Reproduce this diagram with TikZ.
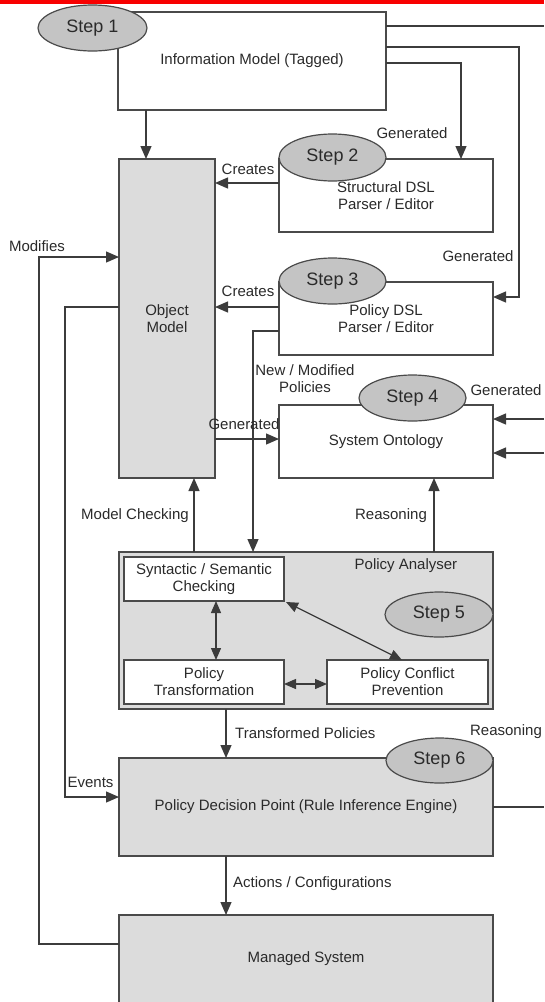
\documentclass[tikz,border=0pt]{standalone}
\usepackage{fontspec}
\setmainfont{Liberation Sans}
\usetikzlibrary{arrows.meta,shapes.geometric}
\definecolor{linec}{HTML}{3C3C3C}
\definecolor{boxc}{HTML}{4A4A4A}
\definecolor{txtc}{HTML}{2A2A2A}
\definecolor{grayf}{HTML}{DCDCDC}
\definecolor{stepf}{HTML}{C4C4C4}
\definecolor{barc}{HTML}{F80000}
\begin{document}
\begin{tikzpicture}[x=1pt,y=-1pt,
  box/.style={draw=boxc, line width=1.4pt, fill=white, inner sep=0pt, outer sep=0pt,
    align=center, text=txtc, font=\fontsize{15}{17}\selectfont},
  graybox/.style={box, fill=grayf},
  stepnode/.style={ellipse, draw=boxc, line width=1.2pt, fill=stepf, inner sep=0pt,
    outer sep=0pt, text=txtc, font=\fontsize{18}{20}\selectfont},
  lbl/.style={text=txtc, inner sep=0pt, align=center, font=\fontsize{15}{17}\selectfont},
  conn/.style={draw=linec, line width=1.3pt},
  arr/.style={conn, -{Triangle[length=13pt,width=11pt]}},
  darr/.style={conn, {Triangle[length=12pt,width=10pt]}-{Triangle[length=12pt,width=10pt]}}]

\useasboundingbox (0,0) rectangle (544,1002);
\clip (0,0) rectangle (544,1002);

% red rule along the top edge
\fill[barc] (0,0) rectangle (544,3.5);

% main blocks
\node[box, minimum width=268pt, minimum height=98pt] (info) at (252,61) {Information Model (Tagged)};
\node[graybox, minimum width=96pt, minimum height=319pt] (obj) at (167,318.5) {Object\\Model};
\node[box, minimum width=214pt, minimum height=73pt] (sdsl) at (386,195.5) {Structural DSL\\Parser / Editor};
\node[box, minimum width=214pt, minimum height=73pt] (pdsl) at (386,318.5) {Policy DSL\\Parser / Editor};
\node[box, minimum width=214pt, minimum height=73pt] (onto) at (386,441.5) {System Ontology};
\node[graybox, minimum width=374pt, minimum height=157pt] (pa) at (306,630.5) {};
\node[box, minimum width=160pt, minimum height=44pt] (syn) at (204,579) {Syntactic / Semantic\\Checking};
\node[box, minimum width=160pt, minimum height=44pt] (ptr) at (204,682) {Policy\\Transformation};
\node[box, minimum width=161pt, minimum height=44pt] (pcp) at (407.5,682) {Policy Conflict\\Prevention};
\node[graybox, minimum width=374pt, minimum height=98pt] (pdp) at (306,807) {Policy Decision Point (Rule Inference Engine)};
\node[graybox, minimum width=374pt, minimum height=88pt] (ms) at (306,959) {Managed System};

% step markers
\node[stepnode, minimum width=109pt, minimum height=46pt] (s1) at (92.5,28) {Step 1};
\node[stepnode, minimum width=107pt, minimum height=47pt] (s2) at (332.5,157.5) {Step 2};
\node[stepnode, minimum width=107pt, minimum height=46pt] (s3) at (332.5,281) {Step 3};
\node[stepnode, minimum width=107pt, minimum height=46pt] (s4) at (412.5,398) {Step 4};
\node[stepnode, minimum width=108pt, minimum height=45pt] (s5) at (439,614.5) {Step 5};
\node[stepnode, minimum width=107pt, minimum height=45pt] (s6) at (439.5,760.5) {Step 6};

% bend points and edge exits
\coordinate (eTop) at (544,26);
\coordinate (bB1) at (519,47);
\coordinate (bB2) at (519,297);
\coordinate (bC) at (461,63);
\coordinate (xD) at (146,0);
\coordinate (yCr1) at (0,183);
\coordinate (yCr2) at (0,307);
\coordinate (bN1) at (253,331);
\coordinate (yGen) at (0,439);
\coordinate (xMC) at (194,0);
\coordinate (xRs) at (434,0);
\coordinate (eOn1) at (544,419);
\coordinate (eOn2) at (544,453);
\coordinate (xTP) at (226,0);
\coordinate (ePdp) at (544,807);
\coordinate (bM1) at (39,944);
\coordinate (bM2) at (39,257);
\coordinate (bE1) at (65,307);
\coordinate (bE2) at (65,797);
\coordinate (xV) at (216,0);
\coordinate (yH) at (0,684);
\coordinate (dA) at (286,602);
\coordinate (dB) at (402,660);

% connectors
\draw[conn] (info.east |- eTop) -- (eTop);
\draw[arr] (info.east |- bB1) -- (bB1) -- (bB2) -- (pdsl.east |- bB2);
\draw[arr] (info.east |- bC) -- (bC) -- (sdsl.north -| bC);
\draw[arr] (info.south -| xD) -- (obj.north -| xD);
\draw[arr] (sdsl.west |- yCr1) -- (obj.east |- yCr1);
\draw[arr] (pdsl.west |- yCr2) -- (obj.east |- yCr2);
\draw[arr] (pdsl.west |- bN1) -- (bN1) -- (pa.north -| bN1);
\draw[arr] (obj.east |- yGen) -- (onto.west |- yGen);
\draw[arr] (pa.north -| xMC) -- (obj.south -| xMC);
\draw[arr] (pa.north -| xRs) -- (onto.south -| xRs);
\draw[arr] (eOn1) -- (onto.east |- eOn1);
\draw[arr] (eOn2) -- (onto.east |- eOn2);
\draw[arr] (pa.south -| xTP) -- (pdp.north -| xTP);
\draw[conn] (pdp.east |- ePdp) -- (ePdp);
\draw[arr] (pdp.south -| xTP) -- (ms.north -| xTP);
\draw[arr] (ms.west |- bM1) -- (bM1) -- (bM2) -- (obj.west |- bM2);
\draw[arr] (obj.west |- bE1) -- (bE1) -- (bE2) -- (pdp.west |- bE2);
\draw[darr] (syn.south -| xV) -- (ptr.north -| xV);
\draw[darr] (dA) -- (dB);
\draw[darr] (ptr.east |- yH) -- (pcp.west |- yH);

% connector labels
\node[lbl] (lCr1) at (248,169) {Creates};
\node[lbl] (lCr2) at (248,291) {Creates};
\node[lbl] (lGen1) at (412,133) {Generated};
\node[lbl] (lGen2) at (478,256) {Generated};
\node[lbl] (lGen3) at (506,390) {Generated};
\node[lbl] (lGen4) at (244,424) {Generated};
\node[lbl] (lMod) at (37,246) {Modifies};
\node[lbl] (lNew) at (305,379) {New / Modified\\Policies};
\node[lbl] (lMC) at (135,516) {Model Checking};
\node[lbl] (lRs1) at (391,516) {Reasoning};
\node[lbl] (lPA) at (406,566) {Policy Analyser};
\node[lbl, anchor=west] (lTP) at (235,733) {Transformed Policies};
\node[lbl] (lRs2) at (506,732) {Reasoning};
\node[lbl] (lEv) at (90.5,782) {Events};
\node[lbl, anchor=west] (lAC) at (233,884) {Actions / Configurations};
\end{tikzpicture}
\end{document}
